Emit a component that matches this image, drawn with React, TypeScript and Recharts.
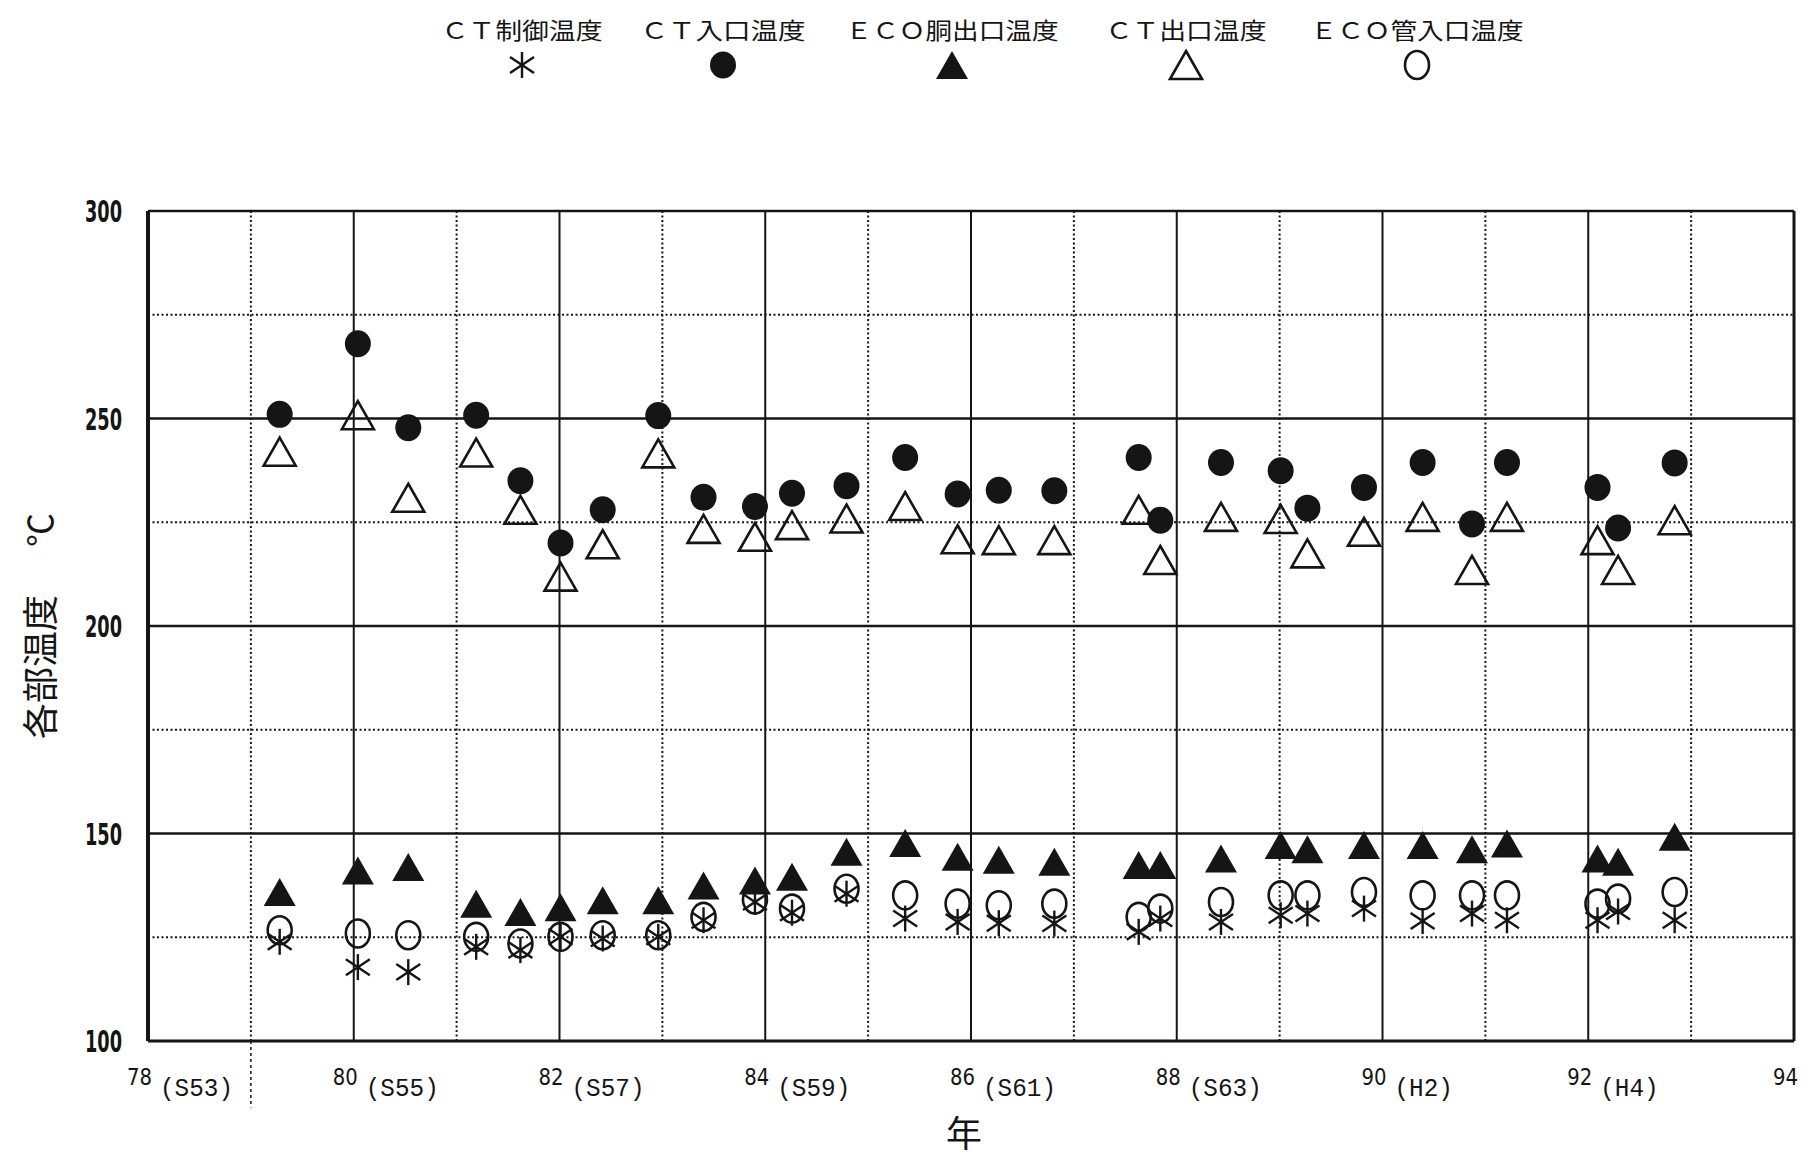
import React from "react";
import { ScatterChart, Scatter, XAxis, YAxis, ReferenceLine, Legend, Label } from "recharts";

// measurement dates (calendar year, fractional) shared by all five series
const measureYears = [
  79.28, 80.04, 80.53, 81.19, 81.62, 82.01, 82.42, 82.96, 83.4, 83.9, 84.26, 84.79, 85.36, 85.87,
  86.27, 86.81, 87.63, 87.84, 88.43, 89.01, 89.27, 89.82, 90.39, 90.87, 91.21, 92.09, 92.29, 92.84,
];

// CT制御温度 (asterisk)
const ctControlTemp = [
  123.9, 117.8, 116.6, 122.7, 121.9, 125.1, 124.7, 125.1, 129.1, 133.5, 130.9, 135.5, 129.5, 128.7,
  128.4, 128.3, 126.3, 129.5, 128.7, 130.3, 130.7, 131.9, 128.9, 130.7, 129.1, 129.1, 131.2, 129.1,
];
// CT入口温度 (filled circle)
const ctInletTemp = [
  251.0, 268.0, 247.8, 250.8, 235.0, 220.0, 228.0, 250.7, 231.0, 228.8, 232.0, 233.8, 240.6, 231.8,
  232.7, 232.6, 240.6, 225.5, 239.4, 237.4, 228.4, 233.4, 239.4, 224.6, 239.4, 233.4, 223.6, 239.3,
];
// ECO胴出口温度 (filled triangle)
const ecoDrumOutletTemp = [
  135.9, 141.1, 141.9, 133.1, 131.1, 132.2, 133.9, 133.9, 137.5, 138.7, 139.6, 145.6, 147.7, 144.4,
  143.7, 143.2, 142.4, 142.4, 144.0, 147.2, 146.2, 147.2, 147.2, 146.2, 147.6, 144.0, 143.2, 149.2,
];
// CT出口温度 (open triangle)
const ctOutletTemp = [
  242.0, 250.8, 230.9, 241.8, 228.0, 211.9, 219.7, 241.6, 223.4, 221.5, 224.3, 225.9, 228.9, 220.9,
  220.7, 220.7, 228.0, 215.9, 226.3, 225.8, 217.5, 222.7, 226.3, 213.5, 226.3, 220.7, 213.5, 225.5,
];
// ECO管入口温度 (open circle)
const ecoTubeInletTemp = [
  126.7, 125.9, 125.5, 125.1, 123.5, 125.1, 125.5, 125.5, 129.9, 134.1, 131.9, 136.7, 135.1, 133.1,
  132.7, 133.1, 129.9, 131.9, 133.5, 135.1, 135.1, 135.9, 135.1, 135.1, 135.1, 133.1, 134.3, 135.9,
];

const seriesNames = ["ＣＴ制御温度", "ＣＴ入口温度", "ＥＣＯ胴出口温度", "ＣＴ出口温度", "ＥＣＯ管入口温度"];
const seriesKinds = ["asterisk", "disc", "solidTriangle", "openTriangle", "ring"];
const seriesValues = [ctControlTemp, ctInletTemp, ecoDrumOutletTemp, ctOutletTemp, ecoTubeInletTemp];

const xTicks = [78, 80, 82, 84, 86, 88, 90, 92, 94];
const eraLabels = ["(S53)", "(S55)", "(S57)", "(S59)", "(S61)", "(S63)", "(H2)", "(H4)", ""];
const yTicks = [100, 150, 200, 250, 300];
const solidYearLines = [80, 82, 84, 86, 88, 90, 92];
const dottedYearLines = [79, 81, 83, 85, 87, 89, 91, 93];
const solidTempLines = [150, 200, 250];
const dottedTempLines = [125, 175, 225, 275];

const INK = "#151515";
const CJK = "'Noto Sans CJK JP', 'Noto Sans CJK SC', sans-serif";

const W = 1801;
const H = 1152;
const LEGEND_H = 100;

function Marker({ kind, cx, cy }: { kind: string; cx: number; cy: number }) {
  if (cx == null || cy == null) return null;
  switch (kind) {
    case "asterisk":
      return (
        <g stroke={INK} strokeWidth={2.4}>
          <line x1={cx} y1={cy - 13} x2={cx} y2={cy + 13} />
          <line x1={cx - 12} y1={cy - 8} x2={cx + 12} y2={cy + 8} />
          <line x1={cx - 12} y1={cy + 8} x2={cx + 12} y2={cy - 8} />
        </g>
      );
    case "disc":
      return <ellipse cx={cx} cy={cy} rx={13} ry={13.5} fill={INK} />;
    case "solidTriangle":
      return <path d={`M${cx},${cy - 14} L${cx + 16},${cy + 14} L${cx - 16},${cy + 14} Z`} fill={INK} />;
    case "openTriangle":
      return (
        <path
          d={`M${cx},${cy - 14} L${cx + 16},${cy + 14} L${cx - 16},${cy + 14} Z`}
          fill="none"
          stroke={INK}
          strokeWidth={2.6}
        />
      );
    case "ring":
      return <ellipse cx={cx} cy={cy} rx={12} ry={14} fill="none" stroke={INK} strokeWidth={2.6} />;
    default:
      return null;
  }
}

const legendCenters = [514, 715, 944, 1178, 1409];
const legendWidths = [161, 165, 213, 161, 213];

function LegendBox() {
  return (
    <div style={{ width: W, height: LEGEND_H }}>
      <svg width={W} height={LEGEND_H} style={{ display: "block" }}>
        {seriesNames.map((name, i) => (
          <g key={name}>
            <text
              x={legendCenters[i]}
              y={31}
              textAnchor="middle"
              fontFamily={CJK}
              fontSize={23}
              fill={INK}
              textLength={legendWidths[i]}
              lengthAdjust="spacingAndGlyphs"
            >
              {name}
            </text>
            <Marker kind={seriesKinds[i]} cx={legendCenters[i]} cy={57} />
          </g>
        ))}
      </svg>
    </div>
  );
}

function YTick(props: any) {
  const { x, y, payload } = props;
  return (
    <text
      x={x - 26}
      y={y + 11}
      textAnchor="end"
      fontFamily="'DejaVu Sans Condensed', 'DejaVu Sans', sans-serif"
      fontWeight="bold"
      fontSize={31}
      fill={INK}
      textLength={37}
      lengthAdjust="spacingAndGlyphs"
    >
      {payload.value}
    </text>
  );
}

function XTick(props: any) {
  const { x, y, payload, index } = props;
  const era = eraLabels[index] ?? "";
  return (
    <g>
      <text
        x={x + 4}
        y={y + 44}
        textAnchor="end"
        fontFamily="'DejaVu Sans Condensed', 'DejaVu Sans', sans-serif"
        fontSize={23}
        fill={INK}
        textLength={25}
        lengthAdjust="spacingAndGlyphs"
      >
        {payload.value}
      </text>
      {era && (
        <text
          x={x + 12}
          y={y + 55}
          textAnchor="start"
          fontFamily="'Liberation Mono', 'DejaVu Sans Mono', monospace"
          fontSize={25}
          fill={INK}
          textLength={era.length * 14.6}
          lengthAdjust="spacingAndGlyphs"
        >
          {era}
        </text>
      )}
    </g>
  );
}

function YTitle(props: any) {
  const vb = props.viewBox || { x: 0, y: 0, width: 0, height: 0 };
  const cx = vb.x + 30;
  const cy = vb.y + vb.height / 2;
  return (
    <g transform={`rotate(-90, ${cx}, ${cy})`}>
      <text
        x={cx - 113}
        y={cy}
        textAnchor="start"
        dominantBaseline="central"
        fontFamily={CJK}
        fontSize={36}
        fill={INK}
      >
        各部温度
      </text>
      <text
        x={cx + 113}
        y={cy}
        textAnchor="end"
        dominantBaseline="central"
        fontFamily={CJK}
        fontSize={34}
        fill={INK}
      >
        ℃
      </text>
    </g>
  );
}

function XTitle(props: any) {
  const vb = props.viewBox || { x: 0, y: 0, width: 0, height: 0 };
  const cx = vb.x + vb.width / 2 - 7;
  const cy = vb.y + 90;
  return (
    <text x={cx} y={cy} textAnchor="middle" dominantBaseline="central" fontFamily={CJK} fontSize={36} fill={INK}>
      年
    </text>
  );
}

export default function App() {
  const seriesData = seriesValues.map((vals) => measureYears.map((x, i) => ({ x, y: vals[i] })));
  return (
    <div style={{ width: W, height: H, background: "#fff" }}>
      <ScatterChart width={W} height={H} margin={{ top: LEGEND_H + 3, right: 15, bottom: 0, left: 0 }}>
        <Legend
          verticalAlign="top"
          align="left"
          wrapperStyle={{ top: 0, left: 0, width: W, height: LEGEND_H, margin: 0, padding: 0 }}
          content={() => <LegendBox />}
        />
        <XAxis
          type="number"
          dataKey="x"
          domain={[78, 94]}
          ticks={xTicks}
          interval={0}
          allowDataOverflow
          height={119}
          tickLine={false}
          tickSize={0}
          tickMargin={0}
          axisLine={{ stroke: INK, strokeWidth: 3 }}
          tick={<XTick />}
        >
          <Label content={<XTitle />} />
        </XAxis>
        <YAxis
          type="number"
          dataKey="y"
          domain={[100, 300]}
          ticks={yTicks}
          interval={0}
          allowDataOverflow
          width={140}
          tickLine={false}
          tickSize={0}
          tickMargin={0}
          axisLine={{ stroke: INK, strokeWidth: 4 }}
          tick={<YTick />}
        >
          <Label content={<YTitle />} />
        </YAxis>

        {dottedYearLines.map((v) => (
          <ReferenceLine key={`dx${v}`} x={v} stroke={INK} strokeWidth={2} strokeDasharray="2 2.5" />
        ))}
        {dottedTempLines.map((v) => (
          <ReferenceLine key={`dy${v}`} y={v} stroke={INK} strokeWidth={2} strokeDasharray="2 2.5" />
        ))}
        {solidYearLines.map((v) => (
          <ReferenceLine key={`sx${v}`} x={v} stroke={INK} strokeWidth={2} />
        ))}
        {solidTempLines.map((v) => (
          <ReferenceLine key={`sy${v}`} y={v} stroke={INK} strokeWidth={2.4} />
        ))}
        <ReferenceLine y={300} stroke={INK} strokeWidth={2.6} />
        <ReferenceLine x={94} stroke={INK} strokeWidth={3} />
        <ReferenceLine
          segment={[
            { x: 79, y: 100 },
            { x: 79, y: 84 },
          ]}
          ifOverflow="visible"
          stroke={INK}
          strokeWidth={1.5}
          strokeDasharray="3 3"
        />

        {seriesNames.map((name, i) => (
          <Scatter
            key={name}
            name={name}
            data={seriesData[i]}
            isAnimationActive={false}
            shape={(p: any) => <Marker kind={seriesKinds[i]} cx={p.cx} cy={p.cy} />}
          />
        ))}
      </ScatterChart>
    </div>
  );
}
